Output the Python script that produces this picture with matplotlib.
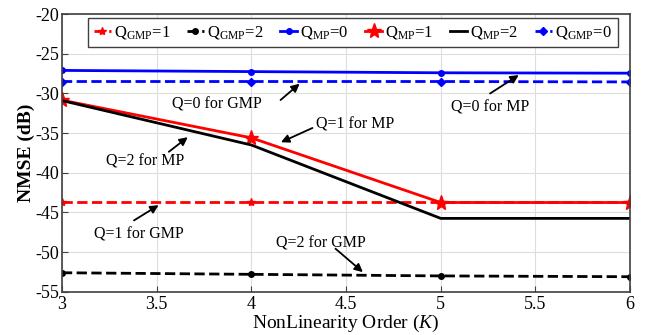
import numpy as np
import matplotlib
matplotlib.use("Agg")
import matplotlib.pyplot as plt

plt.rcParams['font.family'] = 'Liberation Serif'
plt.rcParams['mathtext.fontset'] = 'custom'
plt.rcParams['mathtext.rm'] = 'Liberation Serif'
plt.rcParams['mathtext.it'] = 'Liberation Serif:italic'
plt.rcParams['axes.unicode_minus'] = False

# Data
K = np.array([3, 4, 5, 6])
q_gmp1 = np.array([-43.7, -43.7, -43.7, -43.7])
q_gmp2 = np.array([-52.6, -52.8, -53.0, -53.1])
q_mp0 = np.array([-27.1, -27.25, -27.4, -27.45])
q_mp1 = np.array([-30.85, -35.6, -43.75, -43.75])
q_mp2 = np.array([-30.9, -36.5, -45.75, -45.75])
q_gmp0 = np.array([-28.5, -28.5, -28.5, -28.55])

fig = plt.figure(figsize=(6.45, 3.35), dpi=100)
ax = fig.add_axes([0.096, 0.129, 0.881, 0.829])

lw = 2
ax.plot(K, q_gmp1, '--', color='red', lw=lw, marker='*', ms=6, label=r'Q$_{\mathrm{GMP}}$=1')
ax.plot(K, q_gmp2, '--', color='black', lw=lw, marker='o', ms=4, label=r'Q$_{\mathrm{GMP}}$=2')
ax.plot(K, q_mp0, '-', color='blue', lw=lw, marker='o', ms=4, label=r'Q$_{\mathrm{MP}}$=0')
ax.plot(K, q_mp1, '-', color='red', lw=lw, marker='*', ms=11, label=r'Q$_{\mathrm{MP}}$=1')
ax.plot(K, q_mp2, '-', color='black', lw=lw, label=r'Q$_{\mathrm{MP}}$=2')
ax.plot(K, q_gmp0, '--', color='blue', lw=lw, marker='D', ms=4, label=r'Q$_{\mathrm{GMP}}$=0')

ax.set_xlim(3, 6)
ax.set_ylim(-55, -20)
ax.set_xticks(np.arange(3, 6.01, 0.5))
ax.set_xticklabels(['3', '3.5', '4', '4.5', '5', '5.5', '6'])
ax.set_yticks(np.arange(-55, -19, 5))
ax.tick_params(direction='in', labelsize=13, colors='#404040', labelcolor='black', length=4, pad=2)
ax.tick_params(axis='x', pad=3)
ax.grid(True, color='#dddddd', lw=0.8)
for s in ax.spines.values():
    s.set_color('#404040')
    s.set_linewidth(1.2)

ax.set_xlabel('NonLinearity Order ($K$)', fontsize=14, labelpad=0)
ax.set_ylabel('NMSE (dB)', fontsize=14, fontweight='bold', labelpad=0)

# Annotations
notes = [
    ('Q=0 for GMP', (4.266, -28.55), (3.82, -31.35), (4.143, -31.06)),
    ('Q=0 for MP', (5.424, -27.5), (5.259, -31.75), (5.248, -30.2)),
    ('Q=1 for MP', (4.143, -36.3), (4.548, -33.87), (4.336, -34.21)),
    ('Q=2 for MP', (3.676, -35.3), (3.44, -38.62), (3.553, -37.57)),
    ('Q=1 for GMP', (3.523, -43.9), (3.407, -47.78), (3.368, -46.19)),
    ('Q=2 for GMP', (4.60, -52.75), (4.367, -48.92), (4.433, -49.34)),
]
for txt, tip, tpos, tail in notes:
    ax.text(tpos[0], tpos[1], txt, fontsize=11.5, ha='center', va='center')
    ax.annotate('', xy=tip, xytext=tail,
                arrowprops=dict(arrowstyle='-|>', color='black', lw=1.3, mutation_scale=12))

leg = ax.legend(loc='upper left', bbox_to_anchor=(0.046, 0.985), borderaxespad=0, ncol=6,
                fontsize=12, handlelength=1.0, handletextpad=0.2, columnspacing=1.0,
                borderpad=0.35, numpoints=1, fancybox=False, framealpha=1, edgecolor='#404040')
leg.get_frame().set_linewidth(1.0)

fig.savefig('out.png', dpi=100)
